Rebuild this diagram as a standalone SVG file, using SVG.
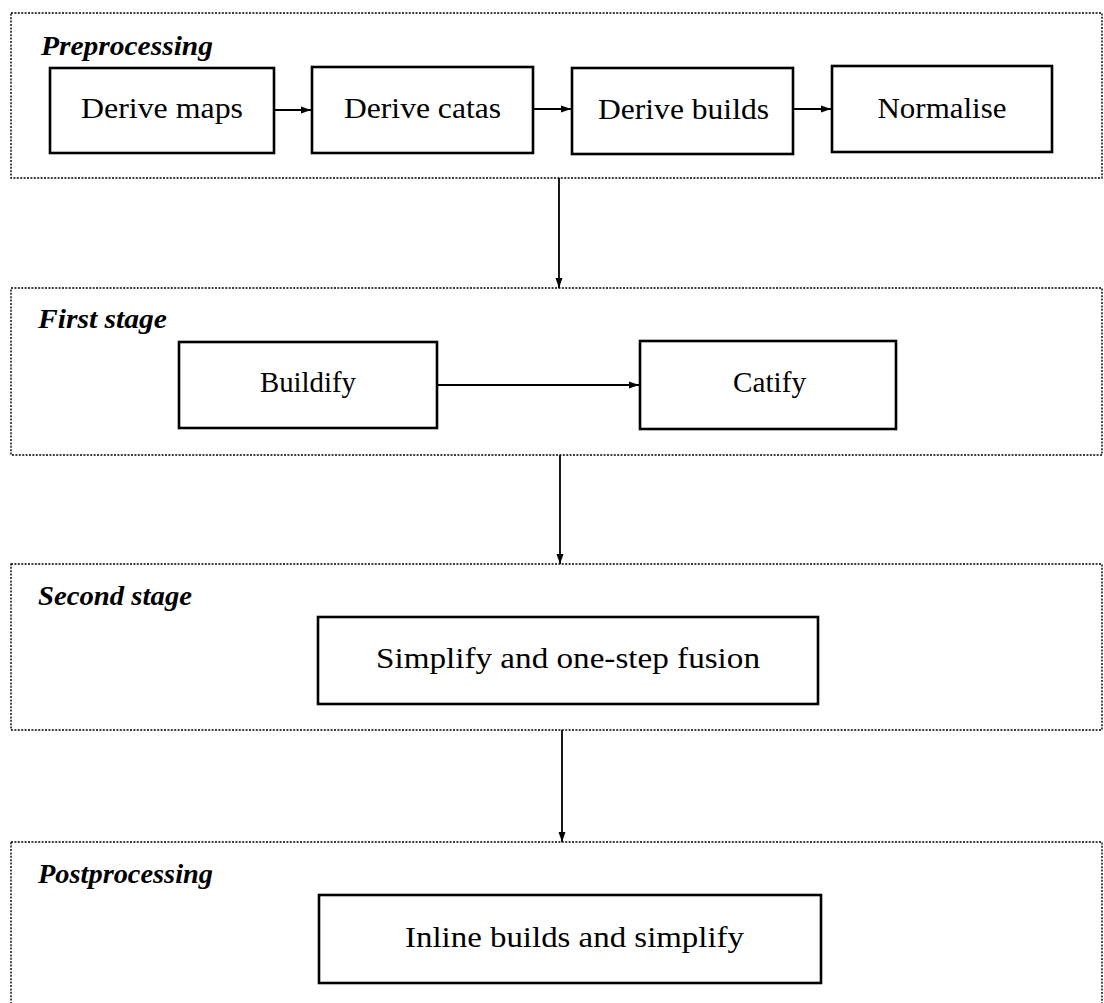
<svg xmlns="http://www.w3.org/2000/svg" width="1104" height="1003" viewBox="0 0 1104 1003">
<style>
.stage{fill:none;stroke:#000;stroke-width:1.4;stroke-dasharray:2 1.4}
.box{fill:#fff;stroke:#000;stroke-width:2.6}
.t{font-family:"Liberation Serif","Times New Roman",serif;font-size:29px;fill:#000;text-anchor:middle}
.lbl{font-family:"Liberation Serif","Times New Roman",serif;font-size:27px;font-style:italic;font-weight:bold;fill:#000}
.conn{stroke:#000;stroke-width:1.8;fill:none;marker-end:url(#ah)}
</style>
<defs>
<marker id="ah" markerWidth="11" markerHeight="9" refX="10" refY="4.5" orient="auto" markerUnits="userSpaceOnUse">
<path d="M0,1 L10,4.5 L0,8 Z" fill="#000"/>
</marker>
</defs>
<rect width="1104" height="1003" fill="#fff"/>
<g id="stage-pre">
<rect class="stage" x="11" y="13" width="1091" height="165"/>
<text class="lbl" x="41" y="55" textLength="172" lengthAdjust="spacingAndGlyphs">Preprocessing</text>
</g>
<g id="stage-first">
<rect class="stage" x="11" y="288" width="1091" height="167"/>
<text class="lbl" x="38" y="328" textLength="129" lengthAdjust="spacingAndGlyphs">First stage</text>
</g>
<g id="stage-second">
<rect class="stage" x="11" y="564" width="1091" height="166"/>
<text class="lbl" x="38" y="605" textLength="154" lengthAdjust="spacingAndGlyphs">Second stage</text>
</g>
<g id="stage-post">
<rect class="stage" x="11" y="842" width="1091" height="180"/>
<text class="lbl" x="38" y="883" textLength="175" lengthAdjust="spacingAndGlyphs">Postprocessing</text>
</g>
<g id="derive-maps">
<rect class="box" x="50" y="68" width="224" height="85"/>
<text class="t" x="162" y="118" textLength="162" lengthAdjust="spacingAndGlyphs">Derive maps</text>
</g>
<g id="derive-catas">
<rect class="box" x="312" y="67" width="221" height="86"/>
<text class="t" x="422.5" y="118" textLength="157" lengthAdjust="spacingAndGlyphs">Derive catas</text>
</g>
<g id="derive-builds">
<rect class="box" x="572" y="68" width="221" height="86"/>
<text class="t" x="683.5" y="119" textLength="171" lengthAdjust="spacingAndGlyphs">Derive builds</text>
</g>
<g id="normalise">
<rect class="box" x="832" y="66" width="220" height="86"/>
<text class="t" x="942" y="118" textLength="129" lengthAdjust="spacingAndGlyphs">Normalise</text>
</g>
<g id="buildify">
<rect class="box" x="179" y="342" width="258" height="86"/>
<text class="t" x="308" y="392" textLength="96" lengthAdjust="spacingAndGlyphs">Buildify</text>
</g>
<g id="catify">
<rect class="box" x="640" y="341" width="256" height="88"/>
<text class="t" x="769.5" y="392" textLength="73" lengthAdjust="spacingAndGlyphs">Catify</text>
</g>
<g id="simplify-fusion">
<rect class="box" x="318" y="617" width="500" height="87"/>
<text class="t" x="568" y="668" textLength="384" lengthAdjust="spacingAndGlyphs">Simplify and one-step fusion</text>
</g>
<g id="inline-builds">
<rect class="box" x="319" y="895" width="502" height="88"/>
<text class="t" x="574.5" y="947" textLength="339" lengthAdjust="spacingAndGlyphs">Inline builds and simplify</text>
</g>
<g id="connectors">
<line class="conn" x1="275" y1="110" x2="311" y2="110"/>
<line class="conn" x1="534" y1="109" x2="571" y2="109"/>
<line class="conn" x1="794" y1="109" x2="831" y2="109"/>
<line class="conn" x1="559" y1="178" x2="559" y2="288"/>
<line class="conn" x1="438" y1="385" x2="639" y2="385"/>
<line class="conn" x1="560" y1="455" x2="560" y2="564"/>
<line class="conn" x1="562" y1="730" x2="562" y2="842"/>
</g>
</svg>
